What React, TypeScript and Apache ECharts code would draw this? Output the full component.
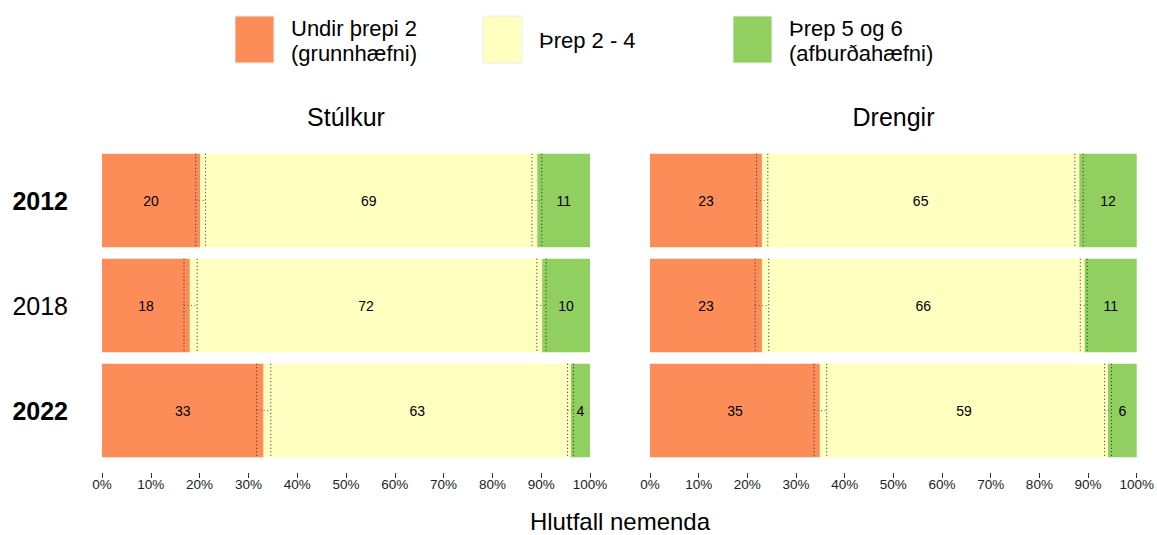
import React, { useEffect, useRef } from 'react';
import * as echarts from 'echarts';

const years = ['2012', '2018', '2022'];
const boldYears = ['2012', '2022'];
const panelTitles = ['Stúlkur', 'Drengir'];
const legendLines = [
  ['Undir þrepi 2', '(grunnhæfni)'],
  ['Þrep 2 - 4'],
  ['Þrep 5 og 6', '(afburðahæfni)'],
];
const seriesNames = ['Undir þrepi 2', 'Þrep 2 - 4', 'Þrep 5 og 6'];
const colors = ['#FC8D59', '#FFFFBF', '#91CF60'];
const xTicks = [0, 10, 20, 30, 40, 50, 60, 70, 80, 90, 100];
const axisTitle = 'Hlutfall nemenda';

// Stúlkur
const girlsLow = [20.1, 18.0, 33.1];
const girlsMid = [69.1, 72.2, 63.0];
const girlsHigh = [10.8, 9.8, 3.9];
// Drengir
const boysLow = [23.0, 23.0, 34.9];
const boysMid = [65.2, 66.3, 59.2];
const boysHigh = [11.8, 10.7, 5.9];

// confidence intervals of the two boundaries [lower, upper]
const girlsCiLow = [[19.2, 21.2], [16.8, 19.5], [31.7, 34.6]];
const girlsCiHigh = [[88.1, 90.1], [89.1, 91.0], [95.4, 96.6]];
const boysCiLow = [[21.9, 24.2], [21.6, 24.4], [33.7, 36.3]];
const boysCiHigh = [[87.3, 89.0], [88.4, 89.8], [93.4, 94.8]];

const FONT = '"Liberation Sans", Arial, sans-serif';

export default function App() {
  const ref = useRef<HTMLDivElement>(null);
  useEffect(() => {
    if (!ref.current) return;
    const chart = echarts.init(ref.current, undefined, { renderer: 'svg' });

    const grids = [
      { left: 102, width: 488, top: 148, height: 315 },
      { left: 650, width: 487, top: 148, height: 315 },
    ];
    const panels = [
      { vals: [girlsLow, girlsMid, girlsHigh], ci: [girlsCiLow, girlsCiHigh] },
      { vals: [boysLow, boysMid, boysHigh], ci: [boysCiLow, boysCiHigh] },
    ];

    const xAxes = grids.map((_, i) => ({
      type: 'value',
      gridIndex: i,
      min: xTicks[0],
      max: xTicks[xTicks.length - 1],
      interval: 10,
      offset: 10,
      axisLine: { show: false },
      axisTick: { show: true, length: 5, lineStyle: { color: '#333', width: 1 } },
      splitLine: { show: false },
      axisLabel: {
        formatter: '{value}%',
        fontSize: 13.5,
        color: '#222',
        margin: 4,
        fontFamily: FONT,
      },
    }));
    const yAxes = grids.map((_, i) => ({
      type: 'category',
      gridIndex: i,
      data: years,
      inverse: true,
      axisLine: { show: false },
      axisTick: { show: false },
      axisLabel: {
        show: i === 0,
        margin: 34,
        formatter: (v: string) => (boldYears.includes(v) ? `{b|${v}}` : `{n|${v}}`),
        rich: {
          b: { fontSize: 25, fontWeight: 'bold', color: '#000', fontFamily: FONT },
          n: { fontSize: 25, color: '#000', fontFamily: FONT },
        },
      },
    }));

    const series: any[] = [];
    panels.forEach((p, gi) => {
      p.vals.forEach((arr, si) => {
        series.push({
          type: 'bar',
          name: seriesNames[si],
          stack: 'p' + gi,
          xAxisIndex: gi,
          yAxisIndex: gi,
          barCategoryGap: '11%',
          data: arr,
          itemStyle: { color: colors[si] },
          label: {
            show: true,
            position: 'inside',
            formatter: (d: any) => String(Math.round(d.value)),
            fontSize: 14,
            color: '#000',
            fontFamily: FONT,
          },
          emphasis: { disabled: true },
        });
      });
      const ciData: number[][] = [];
      p.ci.forEach((bound) => bound.forEach((c, yi) => ciData.push([c[0], c[1], yi])));
      series.push({
        type: 'custom',
        xAxisIndex: gi,
        yAxisIndex: gi,
        z: 10,
        encode: { x: [0, 1], y: 2 },
        data: ciData,
        renderItem: (params: any, api: any) => {
          const yi = api.value(2);
          const a = api.coord([api.value(0), yi]);
          const b = api.coord([api.value(1), yi]);
          const h = api.size([0, 1])[1] * 0.89;
          const style = { stroke: '#222', lineWidth: 1, lineDash: [1, 2.5] };
          return {
            type: 'group',
            children: [
              { type: 'line', shape: { x1: a[0], y1: a[1] - h / 2, x2: a[0], y2: a[1] + h / 2 }, style },
              { type: 'line', shape: { x1: b[0], y1: b[1] - h / 2, x2: b[0], y2: b[1] + h / 2 }, style },
              { type: 'line', shape: { x1: a[0], y1: a[1], x2: b[0], y2: b[1] }, style: { stroke: '#666', lineWidth: 1, lineDash: [1, 2.5] } },
            ],
          };
        },
      });
    });

    const graphic: any[] = [];
    panelTitles.forEach((t, i) => {
      graphic.push({
        type: 'text',
        x: grids[i].left + grids[i].width / 2,
        y: 117,
        style: { text: t, fontSize: 25, fill: '#000', textAlign: 'center', textVerticalAlign: 'middle', fontFamily: FONT },
      });
    });
    graphic.push({
      type: 'text',
      x: 620,
      y: 521,
      style: { text: axisTitle, fontSize: 24, fill: '#000', textAlign: 'center', textVerticalAlign: 'middle', fontFamily: FONT },
    });
    const legendX = [235, 483, 733];
    legendLines.forEach((lines, i) => {
      graphic.push({
        type: 'rect',
        shape: { x: legendX[i], y: 16, width: 39, height: 47 },
        style: { fill: colors[i], stroke: '#eeeeee', lineWidth: 1 },
      });
      lines.forEach((ln, li) => {
        const y = lines.length === 1 ? 40 : 28 + li * 25;
        graphic.push({
          type: 'text',
          x: legendX[i] + 56,
          y,
          style: { text: ln, fontSize: 22, fill: '#000', textAlign: 'left', textVerticalAlign: 'middle', fontFamily: FONT },
        });
      });
    });

    chart.setOption({
      animation: false,
      backgroundColor: '#ffffff',
      textStyle: { fontFamily: FONT },
      grid: grids,
      xAxis: xAxes,
      yAxis: yAxes,
      series,
      graphic,
    });
    return () => chart.dispose();
  }, []);
  return <div ref={ref} style={{ position: 'fixed', left: 0, top: 0, width: 1157, height: 535 }} />;
}
